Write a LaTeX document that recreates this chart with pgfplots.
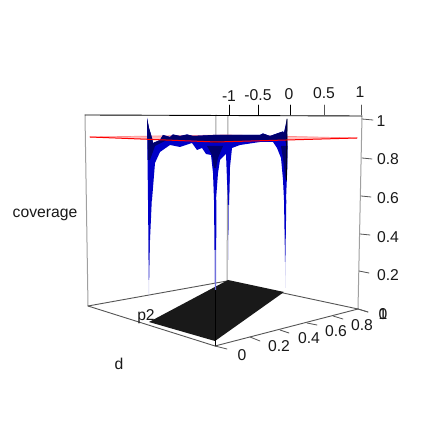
\documentclass[border=0pt]{standalone}
\usepackage{pgfplots}
\pgfplotsset{compat=1.18}
\usepackage{fontspec}
\setmainfont{Liberation Sans}
\definecolor{navy1}{HTML}{00006E}
\definecolor{blue1}{HTML}{0000C8}
\definecolor{blue2}{HTML}{1C1CC8}
\definecolor{blue3}{HTML}{7070DC}
\definecolor{blue4}{HTML}{C8C8F0}
\definecolor{gline}{HTML}{A0A0A0}
\definecolor{dline}{HTML}{555555}
\tikzset{lab/.style={font=\fontsize{15.7}{15.7}\selectfont, inner sep=0pt, text=black!90}}
\begin{document}
\begin{tikzpicture}
\begin{axis}[
  scale only axis, width=445pt, height=427pt,
  xmin=0, xmax=445, ymin=0, ymax=427, y dir=reverse,
  axis lines=none, clip=false, no markers,
  every axis plot/.append style={line cap=round, line join=round},
]
\addplot[draw=none, fill=white] coordinates {(0,0) (445,0) (445,427) (0,427)} -- cycle;
% box
\addplot[gline, line width=1pt] coordinates {(85,115) (88,306)};
\addplot[gline, line width=1pt] coordinates {(228,116) (227,281)};
\addplot[gline, line width=1pt] coordinates {(362,116) (358,309)};
\addplot[gline, line width=1pt] coordinates {(216,115) (215,225)};
\addplot[black, line width=0.9pt] coordinates {(85,115) (362,116)};
\addplot[dline, line width=0.9pt] coordinates {(88,306) (227,281) (358,309)};
\addplot[dline, line width=0.9pt] coordinates {(88,306) (215,346) (358,309)};
% base plane
\addplot[draw=none, fill=black!90] coordinates {(149,322) (215,341) (284,292) (228,280)} -- cycle;
\addplot[black, line width=0.8pt] coordinates {(215,225) (215,346)};
% red plane
\addplot[draw=none, fill=red!25] coordinates {(90,137) (227,135) (357,138) (216,142)} -- cycle;
\addplot[red!45, line width=0.7pt] coordinates {(90,137) (227,135) (357,138)};
% surface body
\addplot[draw=none, fill=blue1] coordinates {
 (147,118) (149,128) (152,138) (153,143) (160,140) (163,135) (170,137) (173,134.5) (180,136)
 (187,134.5) (193,136) (213,135) (260,135) (263,133.5) (270,136) (277,133.5) (283,131.5)
 (284,133) (287,119) (287.5,163) (286,200) (284,200) (283,180) (281,158) (277,148) (273,142)
 (260,142) (240,145) (232,148) (230,167) (229,200) (228,200) (227,180) (226,154) (220,160)
 (218,173) (216,200) (214,200) (213,173) (211,155) (206,154) (202,148) (197,150) (192,143)
 (180,147) (170,145) (160,152) (155,163) (152,200) (148,200) (147.5,160)} -- cycle;
% dark upper band
\addplot[draw=none, fill=navy1] coordinates {
 (147,118) (149,128) (152,138) (153,143) (160,140) (163,135) (170,137) (173,134.5) (180,136)
 (187,134.5) (193,136) (213,135) (260,135) (263,133.5) (270,136) (277,133.5) (283,131.5)
 (284,133) (287,119) (287.5,150) (285,140) (260,140) (240,141) (215,143) (190,140) (165,141) (155,146) (150,160) (148,160)} -- cycle;
\addplot[draw=none, fill=navy1] coordinates {(207,146) (223,146) (218,158) (216,168) (214,168) (212,155)} -- cycle;
\addplot[draw=none, fill=navy1] coordinates {(281,146) (287.5,146) (287,170) (285,180) (284,165)} -- cycle;
\addplot[black, line width=0.7pt] coordinates {(287,119) (286.5,180)};
% spike tails
\addplot[draw=none, fill=blue1] coordinates {(148,200) (151.8,200) (150,240) (148.4,240)} -- cycle;
\addplot[draw=none, fill=blue2] coordinates {(148.4,240) (150,240) (149.2,280) (148.6,280)} -- cycle;
\addplot[draw=none, fill=blue4] coordinates {(148.6,280) (149.2,280) (149,298) (148.8,298)} -- cycle;
\addplot[draw=none, fill=blue1] coordinates {(214,200) (216.4,200) (216.2,250) (214.5,250)} -- cycle;
\addplot[draw=none, fill=blue3] coordinates {(214.5,250) (216.2,250) (216,290) (214.8,290)} -- cycle;
\addplot[draw=none, fill=blue1] coordinates {(227.7,172) (229.7,172) (229,205) (228,205)} -- cycle;
\addplot[draw=none, fill=blue3] coordinates {(228,205) (229,205) (228.7,235) (228,235)} -- cycle;
\addplot[draw=none, fill=blue4] coordinates {(228,235) (228.7,235) (228.5,260) (228,260)} -- cycle;
\addplot[draw=none, fill=blue1] coordinates {(284,200) (286.3,200) (285.8,235) (284.6,235)} -- cycle;
\addplot[draw=none, fill=blue2] coordinates {(284.6,235) (285.8,235) (285.4,262) (285,262)} -- cycle;
\addplot[draw=none, fill=blue4] coordinates {(285,262) (285.6,262) (285.4,288) (285,288)} -- cycle;
% red plane front edges
\addplot[red, line width=1pt] coordinates {(90,137) (216,142) (357,138)};
% top ticks
\addplot[black, line width=0.8pt] coordinates {(229,105) (229,115)};
\addplot[black, line width=0.8pt] coordinates {(258,105) (258,115)};
\addplot[black, line width=0.8pt] coordinates {(290,105) (290,115)};
\addplot[dline, line width=0.8pt] coordinates {(324,105) (324,115)};
\addplot[dline, line width=0.8pt] coordinates {(361,105) (361,115)};
% right ticks
\addplot[dline, line width=0.8pt] coordinates {(362,119) (373,120)};
\addplot[dline, line width=0.8pt] coordinates {(362,158) (372,159)};
\addplot[dline, line width=0.8pt] coordinates {(361,196) (371,197)};
\addplot[dline, line width=0.8pt] coordinates {(360,234) (370,235)};
\addplot[dline, line width=0.8pt] coordinates {(359,271) (369,273)};
\addplot[dline, line width=0.8pt] coordinates {(358,309) (368,312)};
% front ticks
\addplot[dline, line width=0.8pt] coordinates {(215,346) (227,349)};
\addplot[dline, line width=0.8pt] coordinates {(250,337) (260,341)};
\addplot[dline, line width=0.8pt] coordinates {(280,330) (289,333)};
\addplot[dline, line width=0.8pt] coordinates {(307,323) (317,325)};
\addplot[dline, line width=0.8pt] coordinates {(333,316) (343,319)};
\addplot[dline, line width=0.8pt] coordinates {(358,309) (368,312)};
% labels
\node[lab] at (axis cs:229,96) {-1};
\node[lab] at (axis cs:258,95) {-0.5};
\node[lab] at (axis cs:289,94.5) {0};
\node[lab] at (axis cs:324,93.5) {0.5};
\node[lab] at (axis cs:360,92.5) {1};
\node[lab] at (axis cs:381,121) {1};
\node[lab] at (axis cs:388,159) {0.8};
\node[lab] at (axis cs:388,198) {0.6};
\node[lab] at (axis cs:388,237) {0.4};
\node[lab] at (axis cs:388,275) {0.2};
\node[lab] at (axis cs:383,314.5) {0};
\node[lab] at (axis cs:383,314.5) {1};
\node[lab] at (axis cs:242,355) {0};
\node[lab] at (axis cs:279,346.5) {0.2};
\node[lab] at (axis cs:309,338.5) {0.4};
\node[lab] at (axis cs:336,331.5) {0.6};
\node[lab] at (axis cs:362,325) {0.8};
\node[lab] at (axis cs:45,215) {coverage};
\node[lab] at (axis cs:146,317) {p2};
\node[lab] at (axis cs:119,364) {d};
\end{axis}
\end{tikzpicture}
\end{document}
